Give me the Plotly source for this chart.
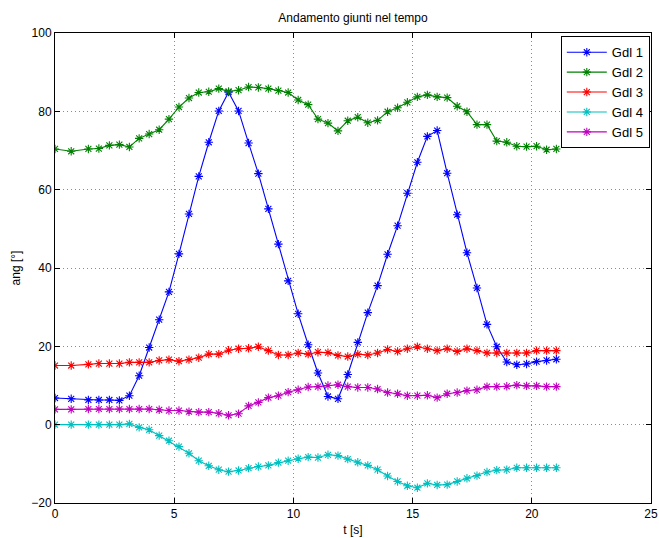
import plotly.graph_objects as go

# Sample times [s]
t = [0.0, 0.68, 1.40, 1.84, 2.28, 2.70, 3.12, 3.53, 3.95, 4.37,
     4.78, 5.20, 5.62, 6.03, 6.45, 6.87, 7.28, 7.70, 8.12, 8.53,
     8.95, 9.37, 9.78, 10.20, 10.62, 11.03, 11.45, 11.87, 12.28, 12.70,
     13.12, 13.53, 13.95, 14.37, 14.78, 15.20, 15.62, 16.03, 16.45, 16.87,
     17.28, 17.70, 18.12, 18.53, 18.95, 19.37, 19.78, 20.20, 20.62, 21.03]

# Joint angles [deg]
gdl1 = [6.8, 6.6, 6.3, 6.3, 6.3, 6.2, 7.4, 12.5, 19.7, 26.8,
        33.9, 43.6, 53.8, 63.4, 72.1, 80.1, 84.9, 80.1, 71.9, 64.1,
        55.1, 46.1, 36.7, 28.3, 20.4, 13.2, 7.2, 6.6, 12.8, 21.0,
        28.6, 35.5, 43.5, 50.8, 59.1, 67.0, 73.6, 75.1, 64.2, 53.6,
        43.9, 34.9, 25.6, 19.9, 16.0, 15.3, 15.5, 16.1, 16.4, 16.7]
gdl2 = [70.4, 69.8, 70.4, 70.5, 71.3, 71.5, 70.9, 73.1, 74.2, 75.3,
        78.0, 81.1, 83.4, 84.8, 85.0, 85.8, 85.1, 85.4, 86.2, 86.1,
        85.8, 85.3, 84.8, 82.9, 81.7, 78.0, 77.0, 75.0, 77.6, 78.5,
        77.1, 77.7, 79.9, 80.9, 82.3, 83.7, 84.2, 83.7, 83.5, 81.3,
        79.9, 76.6, 76.6, 72.4, 72.1, 71.1, 71.0, 71.1, 70.2, 70.4]
gdl3 = [15.1, 15.1, 15.4, 15.6, 15.6, 15.6, 15.9, 15.9, 15.9, 16.4,
        16.6, 16.2, 16.6, 17.1, 18.0, 18.0, 19.0, 19.4, 19.5, 19.9,
        18.9, 17.8, 17.8, 18.3, 18.0, 18.5, 18.4, 17.7, 17.4, 18.0,
        17.8, 18.3, 19.2, 18.7, 19.4, 19.9, 19.4, 18.9, 19.4, 18.7,
        19.4, 18.9, 18.3, 18.3, 18.3, 18.3, 18.3, 18.9, 18.9, 18.9]
gdl4 = [0.0, 0.0, 0.0, 0.0, 0.0, 0.0, 0.2, -0.7, -1.3, -2.8,
        -4.1, -5.6, -7.3, -9.2, -10.5, -11.5, -12.0, -11.7, -11.1, -10.7,
        -10.4, -9.7, -9.2, -8.7, -8.3, -8.4, -7.7, -7.9, -8.8, -9.6,
        -10.4, -11.5, -13.1, -14.5, -15.6, -16.1, -15.0, -15.4, -15.3, -14.5,
        -13.7, -13.0, -12.1, -11.6, -11.5, -11.0, -11.0, -11.0, -11.0, -11.0]
gdl5 = [3.9, 3.9, 4.0, 4.0, 4.0, 4.0, 4.0, 4.0, 4.0, 3.8,
        3.6, 3.6, 3.3, 3.2, 3.2, 2.9, 2.4, 2.8, 4.8, 5.7,
        6.9, 7.4, 8.3, 8.9, 9.6, 9.7, 10.0, 10.2, 9.7, 9.5,
        9.5, 9.1, 8.2, 7.9, 7.4, 7.4, 7.5, 6.9, 7.9, 8.2,
        8.7, 8.9, 9.7, 9.7, 9.8, 10.1, 9.9, 9.9, 9.7, 9.7]

names = ["Gdl 1", "Gdl 2", "Gdl 3", "Gdl 4", "Gdl 5"]
colors = ["#0000FF", "#008000", "#FF0000", "#00BFBF", "#BF00BF"]
series = [gdl1, gdl2, gdl3, gdl4, gdl5]

x_ticks = [0, 5, 10, 15, 20, 25]
y_ticks = [-20, 0, 20, 40, 60, 80, 100]

fig = go.Figure()
for name, col, y in zip(names, colors, series):
    fig.add_trace(go.Scatter(
        x=t, y=y, name=name, mode="lines+markers",
        line=dict(color=col, width=1.1),
        marker=dict(symbol="asterisk-open", size=7, color=col,
                    line=dict(color=col, width=1.1)),
    ))

axis_common = dict(
    showline=True, linecolor="black", linewidth=1, mirror="ticks",
    ticks="inside", ticklen=5, tickcolor="black",
    showgrid=True, gridcolor="#8C8C8C", griddash="1px,3px", gridwidth=1,
    zeroline=False, tickfont=dict(size=12, color="black"),
    automargin=False,
)

fig.update_layout(
    width=659, height=538,
    margin=dict(l=55, r=8, t=33, b=35),
    paper_bgcolor="white", plot_bgcolor="white",
    font=dict(family="Liberation Sans, Arial, sans-serif", size=12, color="black"),
    title=dict(text="Andamento giunti nel tempo", x=0.5, xref="paper",
               y=0.966, yanchor="middle", font=dict(size=12)),
    xaxis=dict(range=[0, 25], tickvals=x_ticks,
               title=dict(text="t [s]", standoff=5, font=dict(size=12)),
               **axis_common),
    yaxis=dict(range=[-20, 100], tickvals=y_ticks,
               title=dict(text="ang [°]", standoff=8, font=dict(size=12)),
               **axis_common),
    legend=dict(x=0.998, xanchor="right", y=0.993, yanchor="top",
                bgcolor="white", bordercolor="black", borderwidth=1,
                font=dict(size=13), tracegroupgap=0, itemwidth=40),
    showlegend=True,
)

fig.write_html("out.html")
